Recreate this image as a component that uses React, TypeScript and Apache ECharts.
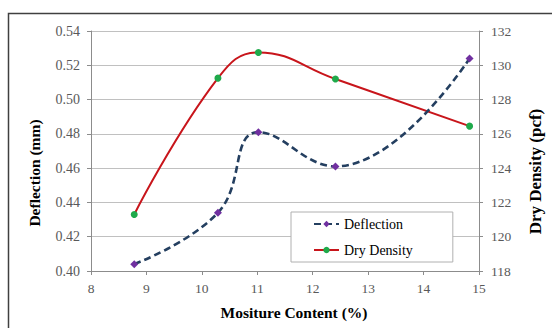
import React, { useEffect, useRef } from "react";
import * as echarts from "echarts";

const moisture = [8.78, 10.29, 11.02, 12.41, 14.83];
const deflection = [0.404, 0.434, 0.481, 0.461, 0.524];
const dryDensity = [121.3, 129.25, 130.75, 129.2, 126.45];

const FONT = "'Liberation Serif', 'Times New Roman', serif";

export default function App() {
  const ref = useRef<HTMLDivElement>(null);
  useEffect(() => {
    document.body.style.margin = "0";
    const chart = echarts.init(ref.current!, null, { renderer: "svg" });
    chart.setOption({
      animation: false,
      backgroundColor: "#ffffff",
      textStyle: { fontFamily: FONT },
      graphic: [
        {
          type: "rect",
          left: 6,
          top: 11,
          shape: { width: 600, height: 400 },
          style: { fill: "none", stroke: "#404040", lineWidth: 1.5 },
          silent: true,
        },
      ],
      grid: { left: 91, right: 71, top: 31, bottom: 57 },
      legend: {
        orient: "vertical",
        left: 291,
        top: 212,
        width: 144,
        height: 50,
        padding: [5, 40, 5, 22],
        itemGap: 12,
        itemWidth: 25,
        itemHeight: 8,
        borderColor: "#b0b0b0",
        borderWidth: 1,
        backgroundColor: "#ffffff",
        textStyle: { fontFamily: FONT, fontSize: 14, color: "#000" },
        data: ["Deflection", "Dry Density"],
      },
      xAxis: {
        type: "value",
        min: 8,
        max: 15,
        interval: 1,
        name: "Mositure Content (%)",
        nameLocation: "middle",
        nameGap: 33,
        nameTextStyle: { fontFamily: FONT, fontSize: 15.5, fontWeight: "bold", color: "#000", padding: [0, 0, 0, 18] },
        axisLine: { lineStyle: { color: "#8c8c8c", width: 1 } },
        axisTick: { show: true, length: 4, lineStyle: { color: "#8c8c8c" } },
        axisLabel: { fontFamily: FONT, fontSize: 13.5, color: "#595959", margin: 10 },
        splitLine: { show: false },
      },
      yAxis: [
        {
          type: "value",
          min: 0.4,
          max: 0.54,
          interval: 0.02,
          name: "Deflection (mm)",
          nameLocation: "middle",
          nameRotate: 90,
          nameGap: 49,
          nameTextStyle: { fontFamily: FONT, fontSize: 15.5, fontWeight: "bold", color: "#000", padding: [0, 44, 0, 0] },
          axisLine: { show: true, lineStyle: { color: "#8c8c8c", width: 1 } },
          axisTick: { show: true, length: 4, lineStyle: { color: "#8c8c8c" } },
          axisLabel: {
            fontFamily: FONT,
            fontSize: 14,
            color: "#595959",
            margin: 11,
            formatter: (v: number) => v.toFixed(2),
          },
          splitLine: { show: true, lineStyle: { color: "#c0c0c0", width: 1 } },
        },
        {
          type: "value",
          min: 118,
          max: 132,
          interval: 2,
          position: "right",
          name: "Dry Density (pcf)",
          nameLocation: "middle",
          nameRotate: 90,
          nameGap: 48,
          nameTextStyle: { fontFamily: FONT, fontSize: 17, fontWeight: "bold", color: "#000", padding: [0, 41, 0, 0] },
          axisLine: { show: true, lineStyle: { color: "#8c8c8c", width: 1 } },
          axisTick: { show: true, length: 4, lineStyle: { color: "#8c8c8c" } },
          axisLabel: { fontFamily: FONT, fontSize: 13.5, color: "#595959", margin: 12 },
          splitLine: { show: false },
        },
      ],
      series: [
        {
          name: "Deflection",
          type: "line",
          yAxisIndex: 0,
          smooth: 0.45,
          data: moisture.map((x, i) => [x, deflection[i]]),
          symbol: "diamond",
          symbolSize: 8,
          itemStyle: { color: "#7030a0" },
          lineStyle: { color: "#243f60", width: 2.6, type: [7, 4] },
          z: 3,
        },
        {
          name: "Dry Density",
          type: "line",
          yAxisIndex: 1,
          smooth: 0.45,
          data: moisture.map((x, i) => [x, dryDensity[i]]),
          symbol: "circle",
          symbolSize: 7,
          itemStyle: { color: "#1faa4b" },
          lineStyle: { color: "#c8151b", width: 2 },
          z: 2,
        },
      ],
    });
    return () => chart.dispose();
  }, []);
  return <div ref={ref} style={{ width: 552, height: 328 }} />;
}
